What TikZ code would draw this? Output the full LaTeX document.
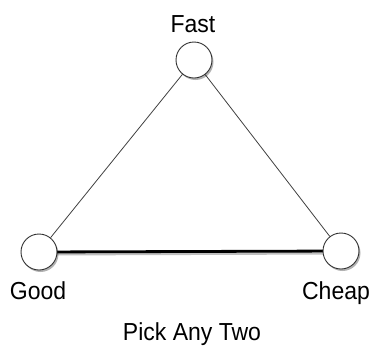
\documentclass[tikz,border=0pt]{standalone}
\usepackage{fontspec}
\setmainfont{Liberation Sans}
\usetikzlibrary{shadows,backgrounds}
\begin{document}
\begin{tikzpicture}[x=1pt,y=-1pt,
  vertex/.style={circle,draw=black!80,line width=0.9pt,fill=white,minimum size=36pt,inner sep=0pt,
    drop shadow={shadow xshift=1.5pt,shadow yshift=-2pt,opacity=0.3,fill=black}},
  lbl/.style={font=\fontsize{23}{26}\selectfont,inner sep=0pt,anchor=base,yscale=1.07},
  thin edge/.style={draw=black!75,line width=0.8pt},
  thick edge/.style={draw=black,line width=2.8pt},
  edge shadow/.style={draw=black,line width=3pt,opacity=0.25,transform canvas={yshift=-2pt}}]
\useasboundingbox (0,0) rectangle (373,346);
\node[vertex] (fast) at (194,60) {};
\node[vertex] (good) at (39,252) {};
\node[vertex] (cheap) at (341,251) {};
\begin{pgfonlayer}{background}
\draw[edge shadow] (good.center) -- (cheap.center);
\draw[thick edge] (good.center) -- (cheap.center);
\draw[thin edge] (fast) -- (good);
\draw[thin edge] (fast) -- (cheap);
\end{pgfonlayer}
\node[lbl] (tfast) at (193,32) {Fast};
\node[lbl] (tgood) at (38,299) {Good};
\node[lbl] (tcheap) at (336,299) {Cheap};
\node[lbl] (ttitle) at (192,340) {Pick Any Two};
\end{tikzpicture}
\end{document}
